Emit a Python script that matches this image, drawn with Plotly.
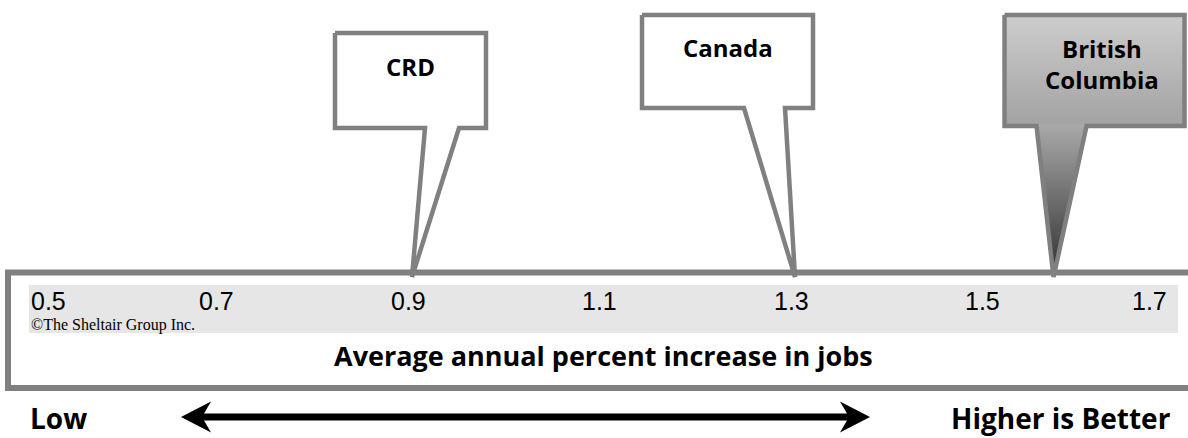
import plotly.graph_objects as go

# ---------------- data ----------------
regions = ["CRD", "Canada", "British Columbia"]
values = [0.90, 1.30, 1.57]          # average annual % increase in jobs
tick_values = [0.5, 0.7, 0.9, 1.1, 1.3, 1.5, 1.7]
tick_labels = ["0.5", "0.7", "0.9", "1.1", "1.3", "1.5", "1.7"]
axis_title = "Average annual percent increase in jobs"
left_label = "Low"
right_label = "Higher is Better"
credit = "\u00a9The Sheltair Group Inc."

# ---------------- layout constants ----------------
W, H = 1188, 438
AX_LEFT_PX, AX_RIGHT_PX = 29, 1178          # pixels of the axis ends (0.5 and 1.7)
PX = (AX_RIGHT_PX - AX_LEFT_PX) / (tick_values[-1] - tick_values[0])
x_lo = tick_values[0] - AX_LEFT_PX / PX
x_hi = tick_values[-1] + (W - AX_RIGHT_PX) / PX

GRAY = "#808080"
BOLD = "Open Sans, sans-serif"

# callout geometry: offsets in pixels relative to the pointed value
callouts = {
    "CRD": dict(left=-77, right=74, top=33, bottom=128, tl=13, tr=47,
                text=["CRD"], tx=-2, ty=[66], filled=False),
    "Canada": dict(left=-153, right=18, top=15, bottom=108, tl=-51, tr=-10,
                   text=["Canada"], tx=-67, ty=[47], filled=False),
    "British Columbia": dict(left=-49, right=131, top=15, bottom=126, tl=-17, tr=33,
                             text=["British", "Columbia"], tx=48, ty=[48, 79], filled=True),
}
TIP_Y = 277

fig = go.Figure()

def dx(v, off):
    return v + off / PX

annotations = []
for name, v in zip(regions, values):
    c = callouts[name]
    xs = [dx(v, c["left"]), dx(v, c["right"]), dx(v, c["right"]), dx(v, c["tr"]), v,
          dx(v, c["tl"]), dx(v, c["left"]), dx(v, c["left"])]
    ys = [c["top"], c["top"], c["bottom"], c["bottom"], TIP_Y, c["bottom"], c["bottom"], c["top"]]
    if c["filled"]:
        # box body with vertical gradient
        fig.add_trace(go.Scatter(
            x=[dx(v, c["left"]), dx(v, c["right"]), dx(v, c["right"]), dx(v, c["left"]), dx(v, c["left"])],
            y=[c["top"], c["top"], c["bottom"], c["bottom"], c["top"]],
            mode="lines", line=dict(width=0), fill="toself",
            fillgradient=dict(type="vertical", start=c["top"], stop=c["bottom"],
                              colorscale=[[0, "#cdcdcd"], [1, "#a2a2a2"]]),
            hoverinfo="skip", showlegend=False))
        # pointer with darker gradient
        fig.add_trace(go.Scatter(
            x=[dx(v, c["tl"]), dx(v, c["tr"]), v, dx(v, c["tl"])],
            y=[c["bottom"] - 2, c["bottom"] - 2, TIP_Y, c["bottom"] - 2],
            mode="lines", line=dict(width=0), fill="toself",
            fillgradient=dict(type="vertical", start=c["bottom"], stop=TIP_Y - 15,
                              colorscale=[[0, "#a8a8a8"], [1, "#3c3c3c"]]),
            hoverinfo="skip", showlegend=False))
        fig.add_trace(go.Scatter(x=xs, y=ys, mode="lines",
                                 line=dict(color=GRAY, width=4.5),
                                 hoverinfo="skip", showlegend=False))
    else:
        fig.add_trace(go.Scatter(x=xs, y=ys, mode="lines", fill="toself",
                                 fillcolor="white",
                                 line=dict(color=GRAY, width=4.5),
                                 hoverinfo="skip", showlegend=False))
    for line_text, ty in zip(c["text"], c["ty"]):
        annotations.append(dict(x=dx(v, c["tx"]), y=ty, xref="x", yref="y",
                                text="<b>%s</b>" % line_text, showarrow=False,
                                font=dict(family=BOLD, size=24, color="black"),
                                xanchor="center", yanchor="middle"))

# dummy trace so the pixel x-axis exists
fig.add_trace(go.Scatter(x=[0, W], y=[0, H], xaxis="x2", mode="markers",
                         marker=dict(opacity=0), hoverinfo="skip", showlegend=False))

shapes = []
# grey band spanning the value axis
shapes.append(dict(type="rect", xref="x", yref="y", x0=tick_values[0], x1=tick_values[-1],
                   y0=285, y1=333, fillcolor="#e6e6e6", line=dict(width=0), layer="below"))
# frame
shapes.append(dict(type="rect", xref="x2", yref="y", x0=8, x1=W + 20, y0=272.5, y1=388,
                   line=dict(color=GRAY, width=6), fillcolor="rgba(0,0,0,0)", layer="below"))
# double-headed arrow
shapes.append(dict(type="rect", xref="x2", yref="y", x0=200, x1=852, y0=413.5, y1=420.5,
                   fillcolor="black", line=dict(width=0)))
shapes.append(dict(type="path", xref="x2", yref="y",
                   path="M 181 417 L 211 401.5 L 202 417 L 211 432.5 Z",
                   fillcolor="black", line=dict(width=0)))
shapes.append(dict(type="path", xref="x2", yref="y",
                   path="M 870 417 L 840 401.5 L 849 417 L 840 432.5 Z",
                   fillcolor="black", line=dict(width=0)))

# tick labels
for i, (tv, tl) in enumerate(zip(tick_values, tick_labels)):
    if i == 0:
        anchor, shift = "left", 0
    elif i == len(tick_values) - 1:
        anchor, shift = "right", -9
    else:
        anchor, shift = "center", -4
    annotations.append(dict(x=tv, y=301, xref="x", yref="y", text=tl, showarrow=False,
                            xanchor=anchor, yanchor="middle", xshift=shift,
                            font=dict(family="Liberation Sans, Arial", size=25, color="black")))

annotations.append(dict(x=tick_values[0], y=325, xref="x", yref="y", text=credit,
                        showarrow=False, xanchor="left", yanchor="middle", xshift=0,
                        font=dict(family="Liberation Serif, Times New Roman", size=16,
                                  color="black")))
annotations.append(dict(x=(tick_values[0] + tick_values[-1]) / 2, y=355, xref="x", yref="y",
                        text="<b>%s</b>" % axis_title, showarrow=False,
                        xanchor="center", yanchor="middle",
                        font=dict(family=BOLD, size=27, color="black")))
annotations.append(dict(x=28, y=418, xref="x2", yref="y", text="<b>%s</b>" % left_label,
                        showarrow=False, xanchor="left", yanchor="middle",
                        font=dict(family=BOLD, size=28, color="black")))
annotations.append(dict(x=1173, y=418, xref="x2", yref="y", text="<b>%s</b>" % right_label,
                        showarrow=False, xanchor="right", yanchor="middle",
                        font=dict(family=BOLD, size=28, color="black")))

fig.update_layout(
    width=W, height=H, margin=dict(l=0, r=0, t=0, b=0),
    paper_bgcolor="white", plot_bgcolor="white",
    xaxis=dict(range=[x_lo, x_hi], visible=False, fixedrange=True),
    xaxis2=dict(range=[0, W], visible=False, overlaying="x", fixedrange=True),
    yaxis=dict(range=[H, 0], visible=False, fixedrange=True),
    shapes=shapes, annotations=annotations, showlegend=False,
)

fig.write_html("out.html")
